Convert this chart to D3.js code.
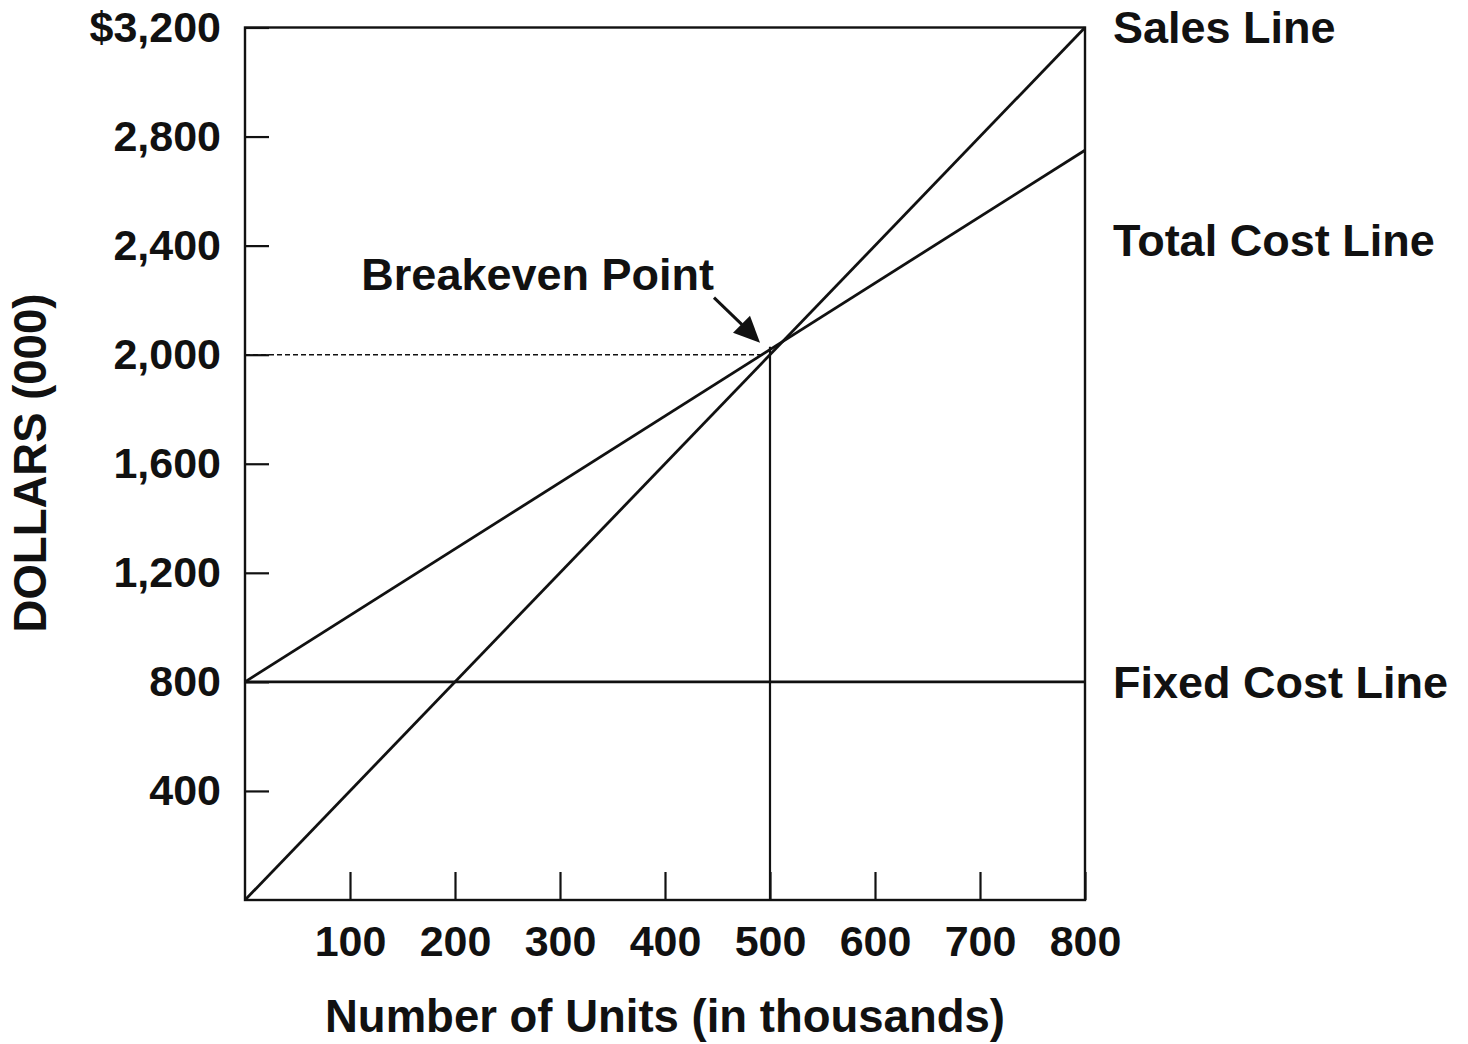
<!DOCTYPE html>
<html>
<head>
<meta charset="utf-8">
<script src="https://cdn.jsdelivr.net/npm/d3@7"></script>
<style>
    body { margin: 0; background: #fff; }
    text { font-family: "Liberation Sans", Arial, Helvetica, sans-serif; font-weight: bold; fill: #111; }
</style>
</head>
<body>
<div id="chart"></div>
<script>
// Chart data
const units = [0, 800];
const salesDollars = [0, 3200];
const totalCostDollars = [800, 2750];
const fixedCostDollars = [800, 800];
const breakevenUnits = 500;
const breakevenDollars = 2000;
const xTickValues = [100, 200, 300, 400, 500, 600, 700, 800];
const yTickValues = [400, 800, 1200, 1600, 2000, 2400, 2800, 3200];
const lineLabels = [
    { text: 'Sales Line', value: 3200 },
    { text: 'Total Cost Line', value: 2420 },
    { text: 'Fixed Cost Line', value: 800 }
];

const width = 1468;
const height = 1044;
const margin = { top: 27.5, right: 383, bottom: 144, left: 245 };
const innerWidth = width - margin.left - margin.right;
const innerHeight = height - margin.top - margin.bottom;

const svg = d3.select('#chart')
    .append('svg')
    .attr('width', width)
    .attr('height', height);

const viz = svg.append('g')
    .attr('transform', `translate(${margin.left}, ${margin.top})`);

const xScale = d3.scaleLinear().domain([0, 800]).range([0, innerWidth]);
const yScale = d3.scaleLinear().domain([0, 3200]).range([innerHeight, 0]);

// Axes with inward ticks
const xAxis = viz.append('g')
    .attr('transform', `translate(0, ${innerHeight})`)
    .call(d3.axisBottom(xScale).tickValues(xTickValues).tickSize(-28).tickPadding(25));

const yAxis = viz.append('g')
    .call(d3.axisLeft(yScale).tickValues(yTickValues).tickSize(-24).tickPadding(24)
        .tickFormat(d => d === 3200 ? '$' + d3.format(',')(d) : d3.format(',')(d)));

[xAxis, yAxis].forEach(axis => {
    axis.attr('font-size', 43).attr('font-family', null);
    axis.select('.domain').remove();
    axis.selectAll('line').attr('stroke', '#111').attr('stroke-width', 2.2);
    axis.selectAll('text')
        .attr('font-size', 43)
        .attr('font-weight', 'bold')
        .attr('fill', '#111');
});

// Frame
viz.append('rect')
    .attr('x', 0)
    .attr('y', 0)
    .attr('width', innerWidth)
    .attr('height', innerHeight)
    .attr('fill', 'none')
    .attr('stroke', '#111')
    .attr('stroke-width', 2.4);

// Breakeven guides
viz.append('line')
    .attr('x1', 0)
    .attr('x2', xScale(breakevenUnits) - 5)
    .attr('y1', yScale(breakevenDollars))
    .attr('y2', yScale(breakevenDollars))
    .attr('stroke', '#111')
    .attr('stroke-width', 1.6)
    .attr('stroke-dasharray', '5,3');

viz.append('line')
    .attr('x1', xScale(breakevenUnits))
    .attr('x2', xScale(breakevenUnits))
    .attr('y1', yScale(breakevenDollars) - 8)
    .attr('y2', innerHeight)
    .attr('stroke', '#111')
    .attr('stroke-width', 2.2);

// Sales, total cost and fixed cost lines
const line = d3.line()
    .x(d => xScale(d[0]))
    .y(d => yScale(d[1]));

[salesDollars, totalCostDollars, fixedCostDollars].forEach(series => {
    viz.append('path')
        .datum(units.map((u, i) => [u, series[i]]))
        .attr('d', line)
        .attr('fill', 'none')
        .attr('stroke', '#111')
        .attr('stroke-width', 2.8);
});

// Line labels on the right
viz.selectAll('.line-label')
    .data(lineLabels)
    .join('text')
    .attr('class', 'line-label')
    .attr('x', xScale(800) + 28)
    .attr('y', d => yScale(d.value))
    .attr('dy', '0.35em')
    .attr('font-size', 45)
    .text(d => d.text);

// Breakeven annotation with arrow
const bx = xScale(breakevenUnits);
const by = yScale(breakevenDollars);

viz.append('text')
    .attr('x', bx - 56)
    .attr('y', by - 65)
    .attr('text-anchor', 'end')
    .attr('font-size', 45)
    .text('Breakeven Point');

viz.append('line')
    .attr('x1', bx - 56)
    .attr('y1', by - 57)
    .attr('x2', bx - 28)
    .attr('y2', by - 30)
    .attr('stroke', '#111')
    .attr('stroke-width', 3);

viz.append('path')
    .attr('d', `M${bx - 10},${by - 12} L${bx - 37},${by - 22} L${bx - 20},${by - 39} Z`)
    .attr('fill', '#111');

// Axis titles
svg.append('text')
    .attr('x', margin.left + innerWidth / 2)
    .attr('y', 1032)
    .attr('text-anchor', 'middle')
    .attr('font-size', 45.5)
    .text('Number of Units (in thousands)');

svg.append('text')
    .attr('transform', `translate(46, 463) rotate(-90)`)
    .attr('text-anchor', 'middle')
    .attr('font-size', 45.5)
    .text('DOLLARS (000)');
</script>
</body>
</html>
